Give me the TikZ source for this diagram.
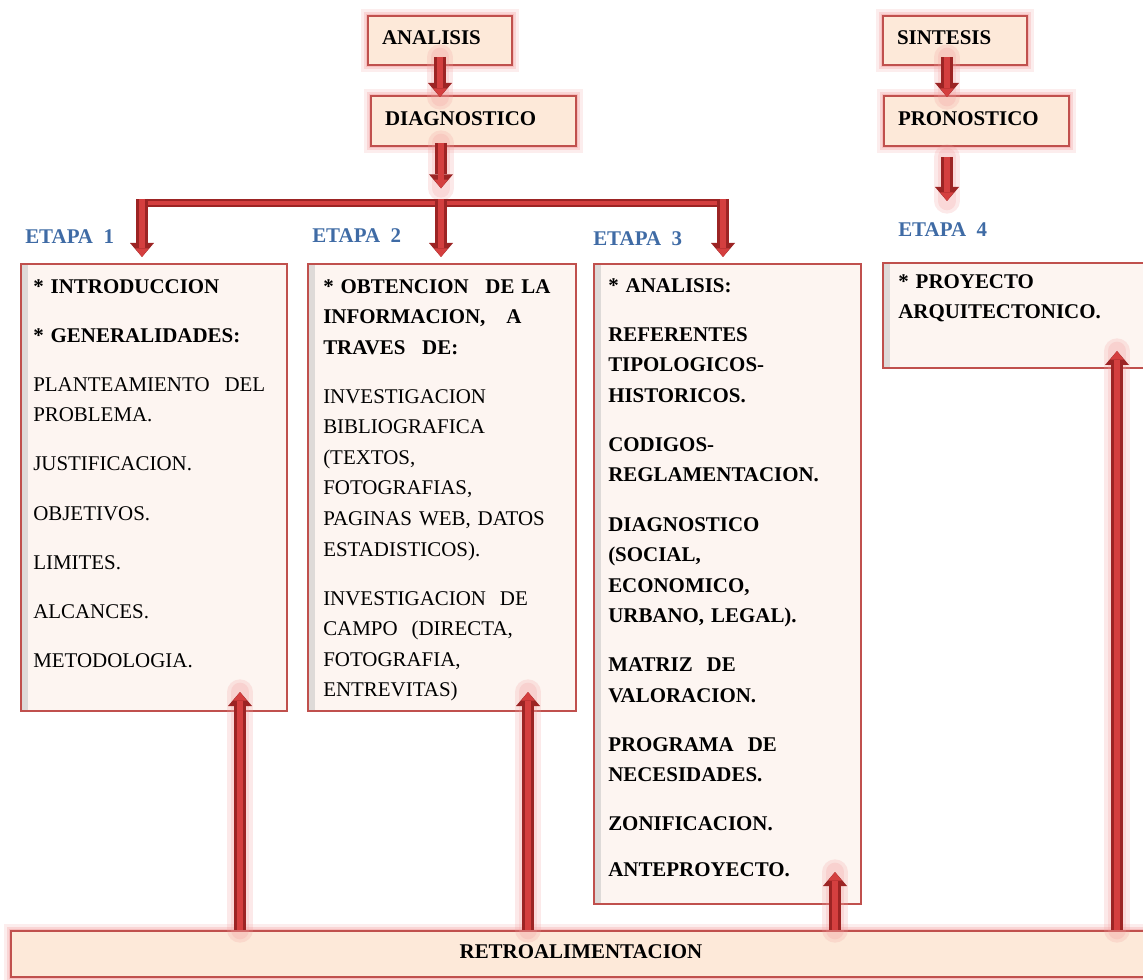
\documentclass[tikz,border=0pt]{standalone}
\usepackage{fontspec}
\setmainfont{Liberation Serif}
\usetikzlibrary{arrows.meta}

\definecolor{rojoborde}{HTML}{C0504D}
\definecolor{rellenoalto}{HTML}{FDE9D9}
\definecolor{rellenoetapa}{HTML}{FDF5F1}
\definecolor{brillo}{HTML}{F19C9C}
\definecolor{flecharoja}{HTML}{D43F3F}
\definecolor{flechaoscura}{HTML}{9C2424}
\definecolor{azuletapa}{HTML}{3F6BA5}

\newcommand{\Letra}{\fontsize{15.7}{22.9}\selectfont}
\newcommand{\Salto}{\\[13.9pt]}

\tikzset{
    caja/.style={draw=rojoborde, line width=1.5pt, fill=rellenoalto, inner sep=0pt, anchor=north west},
    cajaalta/.style={caja,
        preaction={draw=brillo, line width=10pt, opacity=.18},
        preaction={draw=brillo, line width=6pt, opacity=.3},
        preaction={draw=brillo, line width=3.5pt, opacity=.4},
        font=\Letra\bfseries, text height=14pt, text depth=7.5pt},
    cajaetapa/.style={caja, fill=rellenoetapa,
        path picture={\fill[left color=black!25, right color=rellenoetapa, opacity=.5]
            (path picture bounding box.north west) rectangle ([xshift=5pt]path picture bounding box.south west);}},
    texto/.style={anchor=north west, inner sep=0pt, align=left, font=\Letra},
    etapa/.style={anchor=base west, inner sep=0pt, font=\Letra\bfseries, text=azuletapa},
    brilloflecha/.style={line width=#1, draw=brillo, opacity=.22, line cap=round},
    flecha/.style={line width=9.5pt, draw=flechaoscura,
        -{Triangle[width=18pt,length=10.5pt,line width=0pt]}},
    flechacentro/.style={line width=5pt, draw=flecharoja,
        -{Triangle[width=10pt,length=6.5pt,line width=0pt]}},
    barra/.style={line width=6pt, draw=flechaoscura},
    barracentro/.style={line width=2.5pt, draw=flecharoja}
}

% flecha con brillo
\newcommand{\Flecha}[3][]{%
    \draw[brilloflecha=19pt,#1] (#2) -- (#3);
    \draw[brilloflecha=14pt,#1] (#2) -- (#3);
    \draw[flecha,#1] (#2) -- (#3);
    \draw[flechacentro,#1] (#2) -- (#3);
}
% flecha de la barra hacia una etapa
\newcommand{\Baja}[2]{%
    \draw[flecha, shorten <=-3pt, shorten >=4.5pt] (#1) -- (#1 |- #2.north);
    \draw[flechacentro, shorten <=-3pt, shorten >=4.5pt] (#1) -- (#1 |- #2.north);
}

\begin{document}
\begin{tikzpicture}[x=0.75pt, y=-0.75pt]
    \useasboundingbox (0,0) rectangle (1143,980);
    \clip (0,0) rectangle (1143,980);

    % etapas
    \node[cajaetapa, minimum width=199.5pt, minimum height=335.25pt] (etapaUno) at (20,263) {};
    \node[cajaetapa, minimum width=201pt, minimum height=335.25pt] (etapaDos) at (307,263) {};
    \node[cajaetapa, minimum width=200.25pt, minimum height=480pt] (etapaTres) at (593,263) {};
    \node[cajaetapa, minimum width=210pt, minimum height=78.75pt] (etapaCuatro) at (882,262) {};

    \node[etapa] (lblUno) at (25,244) {ETAPA\enspace 1};
    \node[etapa] (lblDos) at (312,243) {ETAPA\enspace 2};
    \node[etapa] (lblTres) at (593,246) {ETAPA\enspace 3};
    \node[etapa] (lblCuatro) at (898,237) {ETAPA\enspace 4};

    \node[texto, text width=174pt] (txtUno) at ([shift={(13,8.6)}]etapaUno.north west) {%
        \strut\textbf{* INTRODUCCION}\Salto
        \textbf{* GENERALIDADES:}\Salto
        PLANTEAMIENTO\hfill DEL\\
        PROBLEMA.\Salto
        JUSTIFICACION.\Salto
        OBJETIVOS.\Salto
        LIMITES.\Salto
        ALCANCES.\Salto
        METODOLOGIA.};
    \node[texto, text width=178pt] (txtDos) at ([shift={(16,8.6)}]etapaDos.north west) {%
        \strut\textbf{* OBTENCION\hspace{0.8em}DE LA}\\
        \textbf{INFORMACION,\hspace{1em}A}\\
        \textbf{TRAVES\hspace{0.8em}DE:}\Salto
        INVESTIGACION\\
        BIBLIOGRAFICA\\
        (TEXTOS,\\
        FOTOGRAFIAS,\\
        PAGINAS\ WEB, DATOS\\
        ESTADISTICOS).\Salto
        INVESTIGACION\ \ DE\\
        CAMPO\ \ (DIRECTA,\\
        FOTOGRAFIA,\\
        ENTREVITAS)};
    \node[texto, text width=180pt, font=\Letra\bfseries] (txtTres) at ([shift={(15,7.6)}]etapaTres.north west) {%
        \strut * ANALISIS:\Salto
        REFERENTES\\
        TIPOLOGICOS-\\
        HISTORICOS.\Salto
        CODIGOS-\\
        REGLAMENTACION.\Salto
        DIAGNOSTICO\\
        (SOCIAL,\\
        ECONOMICO,\\
        URBANO, LEGAL).\Salto
        MATRIZ\ \ DE\\
        VALORACION.\Salto
        PROGRAMA\ \ DE\\
        NECESIDADES.\Salto
        ZONIFICACION.\\[11.6pt]
        ANTEPROYECTO.};
    \node[texto, text width=180pt, font=\Letra\bfseries] (txtCuatro) at ([shift={(16,4.6)}]etapaCuatro.north west) {%
        \strut * PROYECTO\\
        ARQUITECTONICO.};

    % cajas de arriba y de abajo
    \node[cajaalta, align=left, text width=87pt, inner xsep=10.5pt, minimum height=36.75pt] (analisis) at (367,15) {ANALISIS};
    \node[cajaalta, align=left, text width=132.75pt, inner xsep=10.5pt, minimum height=37.5pt] (diagnostico) at (370,95) {DIAGNOSTICO};
    \node[cajaalta, align=left, text width=87pt, inner xsep=10.5pt, minimum height=36.75pt] (sintesis) at (882,15) {SINTESIS};
    \node[cajaalta, align=left, text width=117.75pt, inner xsep=10.5pt, minimum height=37.5pt] (pronostico) at (883,95) {PRONOSTICO};
    \node[cajaalta, minimum width=855pt, minimum height=34.5pt] (retro) at (10,930) {RETROALIMENTACION};

    \coordinate (busL) at (142,203);
    \coordinate (busM) at (441,203);
    \coordinate (busR) at (723,203);
    \coordinate (ejeS) at (947,0);
    \coordinate (finP) at (947,201);
    \coordinate (pieUno) at (240,0);
    \coordinate (pieDos) at (528,0);
    \coordinate (pieTres) at (835,0);
    \coordinate (pieCuatro) at (1117,0);

    % analisis / diagnostico
    \Flecha[shorten <=-6.75pt, shorten >=-1.5pt]{analisis.south}{analisis.south |- diagnostico.north}
    \Flecha[shorten <=-3pt, shorten >=11pt]{diagnostico.south -| busM}{busM}
    \draw[barra] (busL) -- (busR);
    \draw[barracentro] (busL) -- (busR);
    \Baja{busL}{etapaUno}
    \Baja{busM}{etapaDos}
    \Baja{busR}{etapaTres}

    % sintesis / pronostico
    \Flecha[shorten <=-6.75pt, shorten >=-1.5pt]{sintesis.south -| ejeS}{ejeS |- pronostico.north}
    \Flecha[shorten <=7.5pt]{pronostico.south -| ejeS}{finP}

    % retroalimentacion
    \Flecha[shorten >=-15pt]{retro.north -| pieUno}{etapaUno.south -| pieUno}
    \Flecha[shorten >=-15pt]{retro.north -| pieDos}{etapaDos.south -| pieDos}
    \Flecha[shorten >=-24.75pt]{retro.north -| pieTres}{etapaTres.south -| pieTres}
    \Flecha[shorten >=-13.5pt]{retro.north -| pieCuatro}{etapaCuatro.south -| pieCuatro}
\end{tikzpicture}
\end{document}
